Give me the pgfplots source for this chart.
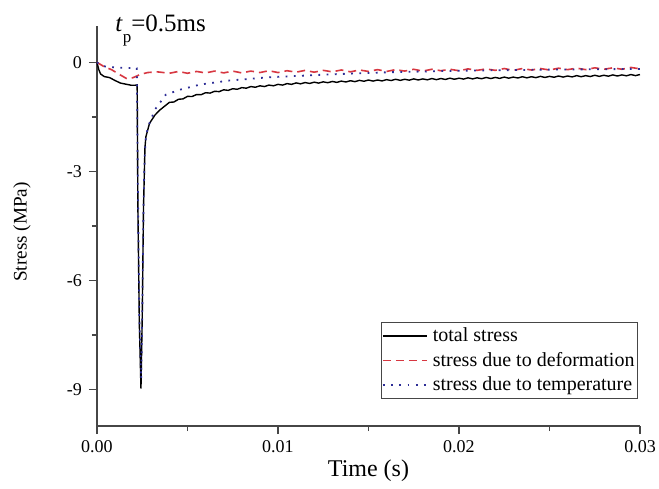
\documentclass[border=0pt]{standalone}
\usepackage{fontspec}
\setmainfont{Liberation Serif}
\usepackage{pgfplots}
\pgfplotsset{compat=1.18}
\definecolor{defred}{RGB}{215,55,65}
\definecolor{tempblue}{RGB}{45,45,150}
\definecolor{axgray}{RGB}{70,70,70}
\begin{document}
\begin{tikzpicture}
\begin{axis}[
  scale only axis, width=271.5pt, height=200pt,
  xmin=0, xmax=0.03, ymin=-10, ymax=1,
  axis lines*=left,
  axis line style={axgray, line width=0.8pt},
  tick align=outside,
  every tick/.style={axgray, line width=0.8pt},
  major tick length=4pt, minor tick length=2.5pt,
  xtick={0,0.01,0.02,0.03}, xticklabels={0.00,0.01,0.02,0.03},
  ytick={-9,-6,-3,0}, yticklabels={-9,-6,-3,0},
  minor xtick={0.005,0.015,0.025}, minor ytick={-7.5,-4.5,-1.5},
  scaled x ticks=false,
  tick label style={font=\fontsize{9}{10}\selectfont},
  xticklabel style={inner sep=0.5pt, yshift=-2.8pt},
  xlabel={Time (s)}, ylabel={Stress (MPa)},
  xlabel style={font=\fontsize{12}{14}\selectfont, at={(rel axis cs:0.5,-0.1125)}, anchor=center},
  ylabel style={font=\fontsize{9.6}{11}\selectfont, at={(rel axis cs:-0.138,0.485)}, anchor=center, rotate=0},
  clip=false,
  legend style={at={(rel axis cs:0.9963,0.0675)}, anchor=south east, draw=axgray, line width=0.5pt,
    font=\fontsize{10}{12}\selectfont, inner xsep=0.5pt, inner ysep=1.5pt,
    nodes={inner sep=1pt}, row sep=1.8pt, column sep=1.5pt, cells={anchor=west}},
  legend image code/.code={\draw[#1] (0pt,0pt) -- (22pt,0pt);},
]
\addplot[black, line width=0.7pt] coordinates {
(0,0) (0.0001,-0.2) (0.0002,-0.32) (0.0004,-0.39) (0.0007,-0.42) (0.001,-0.5) (0.0013,-0.57)
(0.0016,-0.6) (0.0019,-0.63) (0.0021,-0.63) (0.00222,-0.62) (0.00226,-4) (0.00234,-7.2)
(0.00243,-8.97) (0.0025,-7) (0.00257,-4) (0.00265,-2.35) (0.0027,-2.05) (0.0029,-1.68)
(0.0032,-1.45) (0.0035,-1.3)
(0.00400,-1.10) (0.00425,-1.09) (0.00450,-1.015) (0.00475,-1.005) (0.00500,-0.935)
(0.00525,-0.94) (0.00550,-0.885) (0.00575,-0.89) (0.00600,-0.835) (0.00625,-0.845)
(0.00650,-0.795) (0.00675,-0.805) (0.00700,-0.755) (0.00725,-0.77) (0.00750,-0.725)
(0.00775,-0.74) (0.00800,-0.695) (0.00825,-0.71) (0.00850,-0.665) (0.00875,-0.685)
(0.00900,-0.645) (0.00925,-0.665) (0.00950,-0.625) (0.00975,-0.645) (0.01000,-0.605)
(0.01025,-0.625) (0.01050,-0.585) (0.01075,-0.605) (0.01100,-0.565) (0.01125,-0.59)
(0.01150,-0.555) (0.01175,-0.58) (0.01200,-0.545) (0.01225,-0.57) (0.01250,-0.535)
(0.01275,-0.56) (0.01300,-0.525) (0.01325,-0.55) (0.01350,-0.515) (0.01375,-0.54)
(0.01400,-0.505) (0.01425,-0.53) (0.01450,-0.495) (0.01475,-0.52) (0.01500,-0.485)
(0.01525,-0.515) (0.01550,-0.485) (0.01575,-0.51) (0.01600,-0.475) (0.01625,-0.50)
(0.01650,-0.465) (0.01675,-0.495) (0.01700,-0.465) (0.01725,-0.49) (0.01750,-0.455)
(0.01775,-0.485) (0.01800,-0.455) (0.01825,-0.48) (0.01850,-0.445) (0.01875,-0.475)
(0.01900,-0.445) (0.01925,-0.47) (0.01950,-0.435) (0.01975,-0.465) (0.02000,-0.435)
(0.02025,-0.46) (0.02050,-0.425) (0.02075,-0.455) (0.02100,-0.425) (0.02125,-0.45)
(0.02150,-0.415) (0.02175,-0.445) (0.02200,-0.415) (0.02225,-0.44) (0.02250,-0.405)
(0.02275,-0.435) (0.02300,-0.405) (0.02325,-0.43) (0.02350,-0.395) (0.02375,-0.425)
(0.02400,-0.395) (0.02425,-0.42) (0.02450,-0.385) (0.02475,-0.415) (0.02500,-0.385)
(0.02525,-0.41) (0.02550,-0.375) (0.02575,-0.405) (0.02600,-0.375) (0.02625,-0.40)
(0.02650,-0.365) (0.02675,-0.395) (0.02700,-0.365) (0.02725,-0.39) (0.02750,-0.355)
(0.02775,-0.385) (0.02800,-0.355) (0.02825,-0.38) (0.02850,-0.345) (0.02875,-0.375)
(0.02900,-0.345) (0.02925,-0.37) (0.02950,-0.335) (0.02975,-0.365) (0.03000,-0.335)
};
\addlegendentry{total stress}
\addplot[defred, line width=0.8pt, dash pattern=on 4pt off 2.5pt] coordinates {
(0,0) (0.0004,-0.12) (0.0008,-0.2) (0.0012,-0.32) (0.00165,-0.45) (0.002,-0.42) (0.0024,-0.33)
(0.0028,-0.28) (0.0033,-0.26)
(0.0035,-0.27) (0.004,-0.30) (0.0045,-0.25) (0.005,-0.30) (0.0055,-0.25) (0.006,-0.29)
(0.0065,-0.24) (0.007,-0.29) (0.0075,-0.24) (0.008,-0.29) (0.0085,-0.24) (0.009,-0.28)
(0.0095,-0.23) (0.010,-0.28) (0.0105,-0.23) (0.011,-0.27) (0.0115,-0.22) (0.012,-0.27)
(0.0125,-0.22) (0.013,-0.26) (0.0135,-0.21) (0.014,-0.26) (0.0145,-0.21) (0.015,-0.25)
(0.0155,-0.20) (0.016,-0.25) (0.0165,-0.20) (0.017,-0.24) (0.0175,-0.19) (0.018,-0.24)
(0.0185,-0.19) (0.019,-0.23) (0.0195,-0.19) (0.020,-0.23) (0.0205,-0.18) (0.021,-0.22)
(0.0215,-0.18) (0.022,-0.22) (0.0225,-0.17) (0.023,-0.22) (0.0235,-0.17) (0.024,-0.21)
(0.0245,-0.17) (0.025,-0.21) (0.0255,-0.16) (0.026,-0.20) (0.0265,-0.16) (0.027,-0.20)
(0.0275,-0.15) (0.028,-0.19) (0.0285,-0.15) (0.029,-0.19) (0.0295,-0.14) (0.030,-0.18)
};
\addlegendentry{stress due to deformation}
\addplot[tempblue, line width=0.9pt, dash pattern=on 0.9pt off 3.2pt] coordinates {
(0,0) (0.0002,-0.08) (0.0005,-0.12) (0.001,-0.14) (0.0015,-0.15) (0.0022,-0.16)
(0.00226,-3.5) (0.00234,-7.0) (0.00244,-8.7) (0.0025,-7) (0.00257,-4) (0.00263,-2.6)
(0.0027,-2.1) (0.0028,-1.8) (0.0032,-1.3) (0.0038,-0.89) (0.0046,-0.75) (0.0057,-0.61)
(0.0073,-0.5) (0.0095,-0.41) (0.0129,-0.33) (0.0162,-0.27) (0.02,-0.23) (0.025,-0.2) (0.03,-0.18)
};
\addlegendentry{stress due to temperature}
\node[anchor=base west, font=\fontsize{12.5}{14}\selectfont, inner sep=0pt] at (rel axis cs:0.033,0.985)
  {\textit{t}\raisebox{-0.9ex}{\fontsize{8.5}{9}\selectfont p}=0.5ms};
\path (rel axis cs:-0.1786,-0.145) rectangle (rel axis cs:1.035,1.065);
\end{axis}
\end{tikzpicture}
\end{document}
